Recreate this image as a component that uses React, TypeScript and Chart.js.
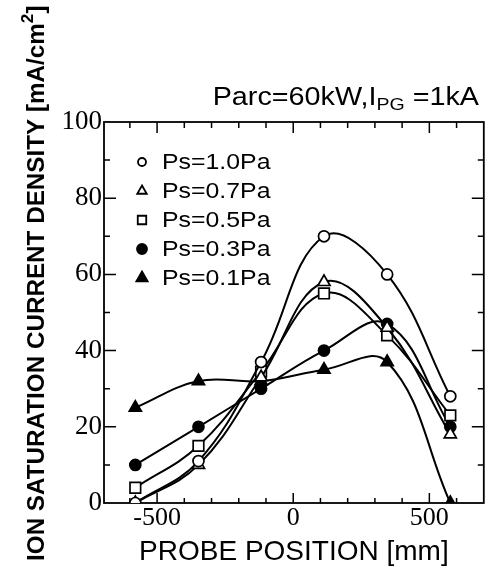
import React, { useEffect, useRef } from 'react';
import { Chart, registerables } from 'chart.js';
import { drawPoint } from 'chart.js/helpers';

Chart.register(...registerables);

// ---- data ----
const X_POSITIONS = [-580, -348, -118, 113, 345, 577];
const PS10 = [0, 11, 37, 70, 60, 28];
const PS07 = [0, 10, 33, 58, 46, 18];
const PS05 = [4, 15, 34.5, 55, 44, 23];
const PS03 = [10, 20, 30, 40, 47, 20];
const PS01 = [25, 32, 32, 35, 37, 0];
const SERIES_LABELS = ['Ps=1.0Pa', 'Ps=0.7Pa', 'Ps=0.5Pa', 'Ps=0.3Pa', 'Ps=0.1Pa'];
const X_TICKS = [-500, 0, 500];
const Y_TICKS = [0, 20, 40, 60, 80, 100];
const X_MINOR = [-600, -500, -400, -300, -200, -100, 0, 100, 200, 300, 400, 500, 600];
const Y_MINOR = [10, 20, 30, 40, 50, 60, 70, 80, 90];
const X_TITLE = 'PROBE POSITION [mm]';
const Y_TITLE = 'ION SATURATION CURRENT DENSITY [mA/cm';
const ANNOT = ['Parc=60kW,I', 'PG', ' =1kA'];

const SANS = '"Liberation Sans", Arial, sans-serif';
const SERIF = '"Liberation Serif", "Times New Roman", serif';

const STYLES = [
  { pointStyle: 'circle', fill: '#fff', radius: 5.5, legendRadius: 4 },
  { pointStyle: 'triangle', fill: '#fff', radius: 7, legendRadius: 5.5 },
  { pointStyle: 'rect', fill: '#fff', radius: 7.5, legendRadius: 6 },
  { pointStyle: 'circle', fill: '#000', radius: 5.5, legendRadius: 5 },
  { pointStyle: 'triangle', fill: '#000', radius: 7, legendRadius: 6.5 },
];
const SERIES = [PS10, PS07, PS05, PS03, PS01];

function drawScaledText(ctx: CanvasRenderingContext2D, parts: { t: string; font: string; dy: number }[], xStart: number, y: number, sx: number) {
  let x = xStart;
  for (const p of parts) {
    ctx.font = p.font;
    ctx.save();
    ctx.translate(x, y + p.dy);
    ctx.scale(sx, 1);
    ctx.fillText(p.t, 0, 0);
    ctx.restore();
    x += ctx.measureText(p.t).width * sx;
  }
}

function measureParts(ctx: CanvasRenderingContext2D, parts: { t: string; font: string }[], sx: number) {
  let w = 0;
  for (const p of parts) {
    ctx.font = p.font;
    w += ctx.measureText(p.t).width * sx;
  }
  return w;
}

const framePlugin = {
  id: 'frame',
  beforeDatasetsDraw(chart: any) {
    const { ctx, chartArea: a, scales } = chart;
    const xs = scales.x;
    const ys = scales.y;
    ctx.save();
    ctx.strokeStyle = '#000';
    ctx.lineWidth = 1.8;
    ctx.strokeRect(a.left, a.top, a.right - a.left, a.bottom - a.top);
    ctx.lineWidth = 1.5;
    ctx.beginPath();
    for (const v of Y_MINOR) {
      const py = ys.getPixelForValue(v);
      const len = v % 20 === 0 ? 12 : 6;
      ctx.moveTo(a.left, py);
      ctx.lineTo(a.left + len, py);
      ctx.moveTo(a.right, py);
      ctx.lineTo(a.right - len, py);
    }
    for (const v of X_MINOR) {
      const px = xs.getPixelForValue(v);
      const major = v % 500 === 0;
      ctx.moveTo(px, a.bottom);
      ctx.lineTo(px, a.bottom - (major ? 10 : 5));
      ctx.moveTo(px, a.top);
      ctx.lineTo(px, a.top + (major ? 11 : 6));
    }
    ctx.stroke();
    ctx.restore();
  },
  afterDraw(chart: any) {
    const { ctx } = chart;
    ctx.save();
    ctx.fillStyle = '#000';
    ctx.textBaseline = 'alphabetic';
    ctx.textAlign = 'left';

    // annotation
    const aParts = [
      { t: ANNOT[0], font: `25px ${SANS}`, dy: 0 },
      { t: ANNOT[1], font: `17px ${SANS}`, dy: 5 },
      { t: ANNOT[2], font: `25px ${SANS}`, dy: 0 },
    ];
    const sxA = 1.15;
    const wA = measureParts(ctx, aParts, sxA);
    drawScaledText(ctx, aParts, 479 - wA, 105, sxA);

    // legend
    const sxL = 1.13;
    chart.data.datasets.forEach((ds: any, i: number) => {
      const st = STYLES[i];
      const cy = 162 + i * 29;
      ctx.fillStyle = st.fill;
      ctx.strokeStyle = '#000';
      ctx.lineWidth = 1.8;
      drawPoint(ctx, { pointStyle: st.pointStyle, radius: st.legendRadius, rotation: 0, borderWidth: 1.8 } as any, 142, cy);
      ctx.fillStyle = '#000';
      ctx.textBaseline = 'middle';
      drawScaledText(ctx, [{ t: ds.label, font: `22px ${SANS}`, dy: 1 }], 162, cy, sxL);
    });

    // y title (rotated)
    ctx.textBaseline = 'alphabetic';
    const yParts = [
      { t: Y_TITLE, font: `bold 24px ${SANS}`, dy: 0 },
      { t: '2', font: `bold 17px ${SANS}`, dy: -11 },
      { t: ']', font: `bold 24px ${SANS}`, dy: 0 },
    ];
    const wY = measureParts(ctx, yParts, 1);
    ctx.save();
    ctx.translate(44, 286);
    ctx.rotate(-Math.PI / 2);
    drawScaledText(ctx, yParts, -wY / 2, 0, 1.01);
    ctx.restore();

    ctx.restore();
  },
};

export default function App() {
  const ref = useRef<HTMLCanvasElement | null>(null);
  useEffect(() => {
    document.body.style.margin = '0';
    const canvas = ref.current;
    if (!canvas) return;
    const datasets = SERIES.map((vals, i) => ({
      label: SERIES_LABELS[i],
      data: vals.map((v, j) => ({ x: X_POSITIONS[j], y: v })),
      borderColor: '#000',
      borderWidth: 2,
      pointStyle: STYLES[i].pointStyle,
      pointRadius: STYLES[i].radius,
      pointBackgroundColor: STYLES[i].fill,
      pointBorderColor: '#000',
      pointBorderWidth: 1.7,
      tension: 0.4,
      fill: false,
    }));
    const chart = new Chart(canvas, {
      type: 'line',
      data: { datasets } as any,
      plugins: [framePlugin as any],
      options: {
        responsive: false,
        animation: false,
        devicePixelRatio: 1,
        layout: { padding: { top: 122, right: 1, left: 0, bottom: 0 } },
        plugins: { legend: { display: false }, tooltip: { enabled: false }, title: { display: false } },
        scales: {
          x: {
            type: 'linear',
            min: -695,
            max: 700,
            afterBuildTicks: (s: any) => { s.ticks = X_TICKS.map((v) => ({ value: v })); },
            afterFit: (s: any) => { s.height = 69; },
            grid: { display: false, drawTicks: false },
            border: { display: false },
            ticks: {
              color: '#000',
              font: { family: SERIF, size: 26 },
              padding: 0,
              maxRotation: 0,
              autoSkip: false,
              callback: (v: any) => String(v),
            },
            title: {
              display: true,
              text: X_TITLE,
              color: '#000',
              font: { family: SANS, size: 28 },
              padding: { top: 0, bottom: 3 },
            },
          },
          y: {
            type: 'linear',
            min: 0,
            max: 100,
            afterBuildTicks: (s: any) => { s.ticks = Y_TICKS.map((v) => ({ value: v })); },
            afterFit: (s: any) => { s.width = 104; },
            grid: { display: false, drawTicks: false },
            border: { display: false },
            ticks: {
              color: '#000',
              font: { family: SERIF, size: 27 },
              padding: 2,
              autoSkip: false,
              callback: (v: any) => String(v),
            },
          },
        },
      } as any,
    });
    return () => chart.destroy();
  }, []);
  return (
    <div style={{ width: 493, height: 572, background: '#fff' }}>
      <canvas ref={ref} width={493} height={572} style={{ display: 'block' }} />
    </div>
  );
}
